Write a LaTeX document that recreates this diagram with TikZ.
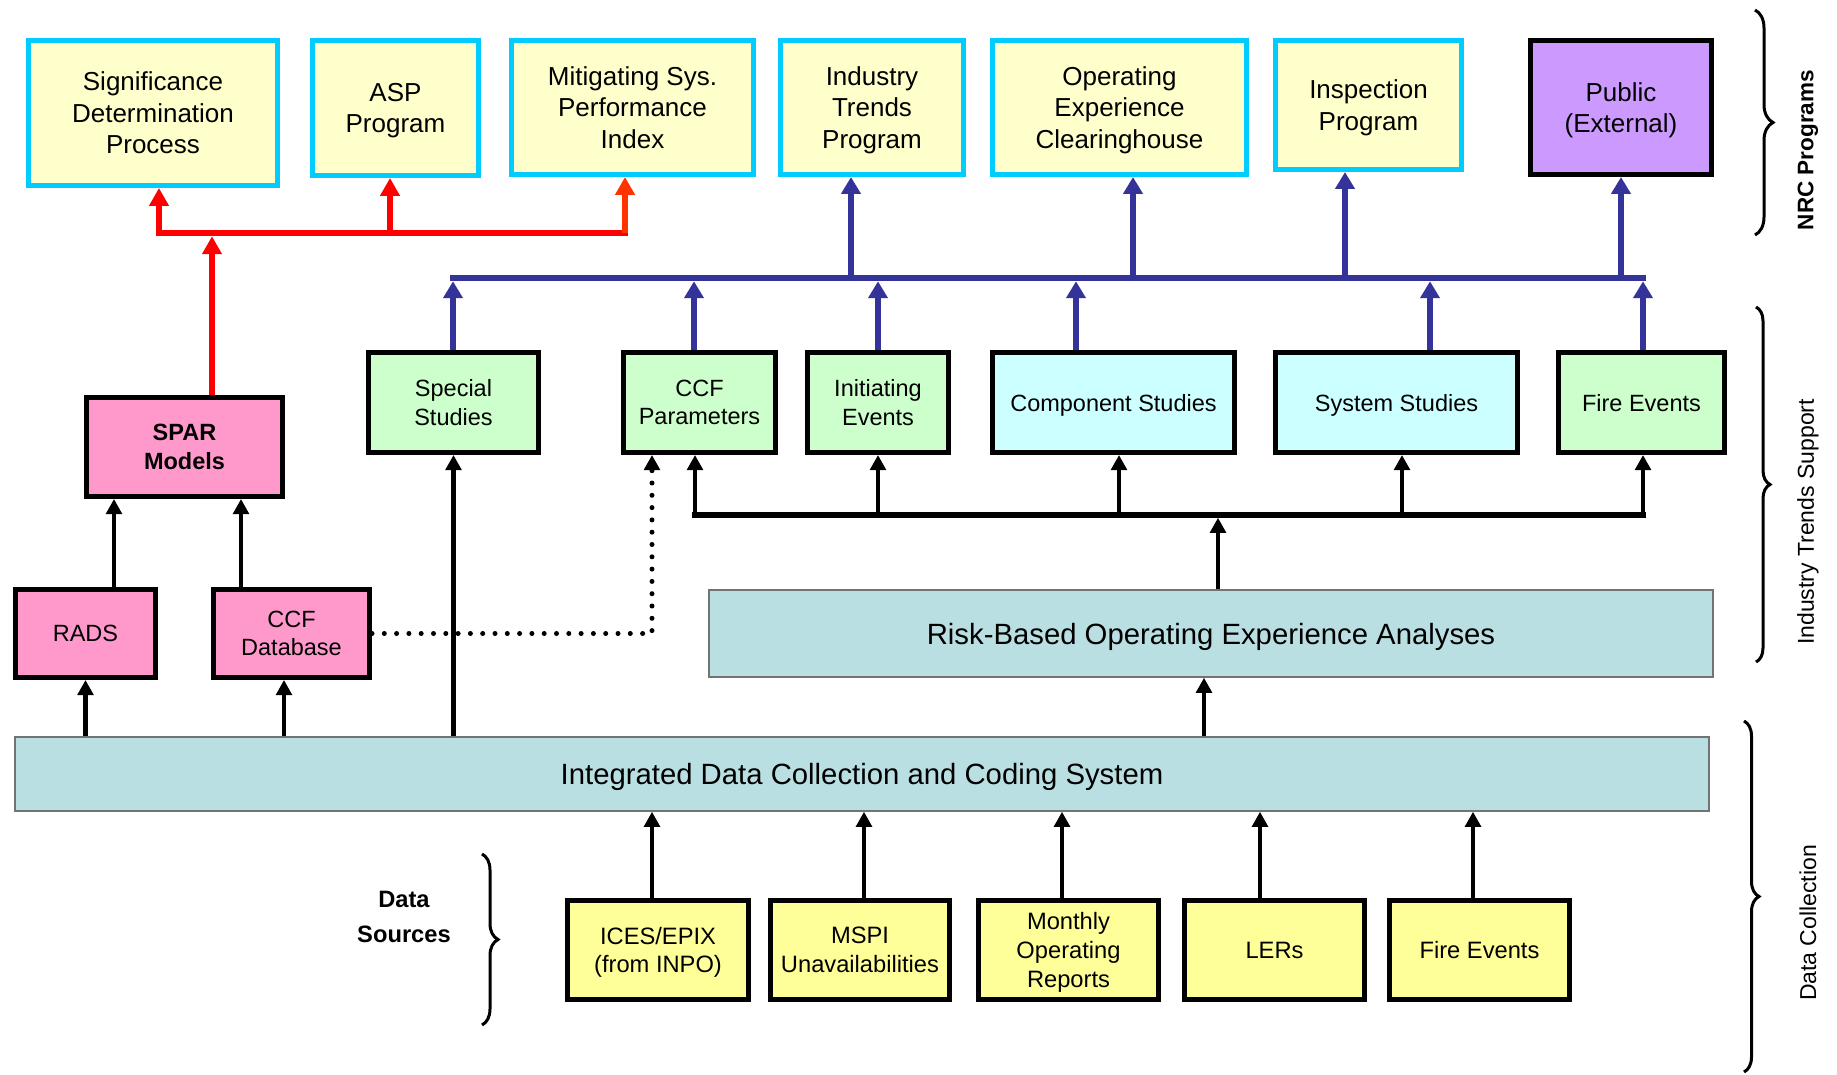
\documentclass[tikz,border=0pt]{standalone}
\usepackage{fontspec}
\setmainfont{Liberation Sans}
\usetikzlibrary{arrows.meta,decorations.pathreplacing}

\definecolor{progyellow}{HTML}{FFFFCC}
\definecolor{progcyan}{HTML}{00CCFF}
\definecolor{publicviolet}{HTML}{CC99FF}
\definecolor{studygreen}{HTML}{CCFFCC}
\definecolor{studycyan}{HTML}{CCFFFF}
\definecolor{sparpink}{HTML}{FF99CC}
\definecolor{sourceyellow}{HTML}{FFFF99}
\definecolor{barblue}{HTML}{B9DFE2}
\definecolor{busblue}{HTML}{333399}
\definecolor{busred}{HTML}{FF0000}
\definecolor{busorange}{HTML}{FF3300}

\begin{document}
\begin{tikzpicture}[
    x=1pt,y=-1pt,
    boxsize/.style 2 args={
      minimum width=#1pt,minimum height=#2pt
    },
    progbox/.style={
      draw=progcyan,fill=progyellow,line width=5pt,text depth=0pt,
      align=center,font=\fontsize{26}{31.5}\selectfont
    },
    publicbox/.style={
      progbox,draw=black,fill=publicviolet
    },
    studybox/.style={
      draw=black,fill=studygreen,line width=5pt,text depth=0pt,
      align=center,font=\fontsize{23.5}{28.5}\selectfont
    },
    trendbox/.style={
      studybox,fill=studycyan
    },
    sparbox/.style={
      studybox,fill=sparpink
    },
    sourcebox/.style={
      studybox,fill=sourceyellow,font=\fontsize{23.7}{28.8}\selectfont
    },
    barbox/.style={
      draw=black!55,fill=barblue,line width=1.5pt,text depth=0pt,
      font=\fontsize{29.3}{34}\selectfont
    },
    redarrow/.style={
      draw=busred,line width=6pt,-{Triangle[width=19pt,length=18pt]}
    },
    redline/.style={
      draw=busred,line width=6.5pt,line cap=rect
    },
    bluearrow/.style={
      draw=busblue,line width=6pt,-{Triangle[width=19pt,length=17pt]}
    },
    blueline/.style={
      draw=busblue,line width=6.5pt,line cap=rect
    },
    blackarrow/.style={
      draw=black,line width=4.6pt,-{Triangle[width=15.5pt,length=15pt]}
    },
    blackline/.style={
      draw=black,line width=5.5pt,line cap=rect
    },
    dotarrow/.style={
      blackarrow,line width=5pt,line cap=round,dash pattern=on 0pt off 12.3pt
    },
    sidebrace/.style={
      decorate,draw=black,line width=3pt
    },
    sidelabel/.style={
      rotate=90,font=\fontsize{23}{27}\selectfont
    }]

      \useasboundingbox (0,0) rectangle (1837,1075);

      \node[progbox,boxsize={249}{145}] (sdp) at (153,113) {Significance\\Determination\\Process};
      \node[progbox,boxsize={166}{135}] (asp) at (395.5,108) {ASP\\Program};
      \node[progbox,boxsize={242}{134}] (mspi) at (632.5,107.5) {Mitigating Sys.\\Performance\\Index};
      \node[progbox,boxsize={183}{134}] (itp) at (872,107.5) {Industry\\Trends\\Program};
      \node[progbox,boxsize={254}{134}] (oec) at (1119.5,107.5) {Operating\\Experience\\Clearinghouse};
      \node[progbox,boxsize={186}{129}] (insp) at (1368.5,105) {Inspection\\Program};
      \node[publicbox,boxsize={181}{134}] (public) at (1621,107.5) {Public\\(External)};

      \node[studybox,boxsize={170}{100}] (spec) at (453.5,402.5) {Special\\Studies};
      \node[studybox,boxsize={152}{100}] (ccfp) at (699.5,402.5) {CCF\\Parameters};
      \node[studybox,boxsize={141}{100}] (init) at (878,402.5) {Initiating\\Events};
      \node[trendbox,boxsize={242}{100}] (comp) at (1113.5,402.5) {Component Studies};
      \node[trendbox,boxsize={242}{100}] (sys) at (1396.5,402.5) {System Studies};
      \node[studybox,boxsize={166}{100}] (fire) at (1641.5,402.5) {Fire Events};

      \node[sparbox,boxsize={196}{99},font=\bfseries\fontsize{23.5}{28.5}\selectfont] (spar) at (184.5,447) {SPAR\\Models};
      \node[sparbox,boxsize={140}{88}] (rads) at (85.5,633.5) {RADS};
      \node[sparbox,boxsize={156}{88}] (ccfdb) at (291.5,633.5) {CCF\\Database};

      \node[barbox,boxsize={1004}{87}] (rbo) at (1211,633.5) {Risk-Based Operating Experience Analyses};
      \node[barbox,boxsize={1694}{74}] (idccs) at (862,774) {Integrated Data Collection and Coding System};

      \node[sourcebox,boxsize={181}{99}] (ices) at (658,950) {ICES/EPIX\\(from INPO)};
      \node[sourcebox,boxsize={179}{99}] (mspiu) at (860,950) {MSPI\\Unavailabilities};
      \node[sourcebox,boxsize={180}{99}] (mor) at (1068.5,950) {Monthly\\Operating\\Reports};
      \node[sourcebox,boxsize={180}{99}] (lers) at (1274.5,950) {LERs};
      \node[sourcebox,boxsize={180}{99}] (fireds) at (1479.5,950) {Fire Events};
      \node[font=\bfseries\fontsize{23.7}{35}\selectfont,align=center] (datasrc) at (404,916.5) {Data\\Sources};

      \node[sidelabel,font=\bfseries\fontsize{22.5}{27}\selectfont] (nrclabel) at (1808,150) {NRC Programs};
      \node[sidelabel] (itslabel) at (1808,522) {Industry Trends Support};
      \node[sidelabel] (dclabel) at (1808,923) {Data Collection};

      \draw[sidebrace,decoration={brace,amplitude=18pt}] (1755,10) -- (1755,235);
      \draw[sidebrace,decoration={brace,amplitude=14pt}] (1756,307) -- (1756,662);
      \draw[sidebrace,decoration={brace,amplitude=15pt}] (1744,721) -- (1744,1072);
      \draw[sidebrace,decoration={brace,amplitude=16pt}] (482,854) -- (482,1025);

      \coordinate (rsdp) at (159,233);
      \coordinate (rasp) at (390,233);
      \coordinate (rmspi) at (625,233);
      \coordinate (rspar) at (212,233);
      \draw[redline] (rsdp) -- (rmspi);
      \draw[redarrow] (rsdp) -- (rsdp |- sdp.south);
      \draw[redarrow] (rasp) -- (rasp |- asp.south);
      \draw[redarrow,draw=busorange] (rmspi) -- (rmspi |- mspi.south);
      \draw[redarrow,shorten >=3.25pt] (rspar |- spar.north) -- (rspar);

      \coordinate (bspec) at (453,278);
      \coordinate (bccfp) at (694,278);
      \coordinate (binit) at (878,278);
      \coordinate (bcomp) at (1076,278);
      \coordinate (bsys) at (1430,278);
      \coordinate (bfire) at (1643,278);
      \coordinate (bitp) at (851,278);
      \coordinate (boec) at (1133,278);
      \coordinate (binsp) at (1345,278);
      \coordinate (bpublic) at (1621,278);
      \draw[blueline] (bspec) -- (bfire);
      \draw[bluearrow] (bitp) -- (bitp |- itp.south);
      \draw[bluearrow] (boec) -- (boec |- oec.south);
      \draw[bluearrow] (binsp) -- (binsp |- insp.south);
      \draw[bluearrow] (bpublic) -- (bpublic |- public.south);
      \draw[bluearrow,shorten >=3.25pt] (bspec |- spec.north) -- (bspec);
      \draw[bluearrow,shorten >=3.25pt] (bccfp |- ccfp.north) -- (bccfp);
      \draw[bluearrow,shorten >=3.25pt] (binit |- init.north) -- (binit);
      \draw[bluearrow,shorten >=3.25pt] (bcomp |- comp.north) -- (bcomp);
      \draw[bluearrow,shorten >=3.25pt] (bsys |- sys.north) -- (bsys);
      \draw[bluearrow,shorten >=3.25pt] (bfire |- fire.north) -- (bfire);

      \coordinate (kccfp) at (695,515);
      \coordinate (kinit) at (878,515);
      \coordinate (kcomp) at (1119,515);
      \coordinate (ksys) at (1402,515);
      \coordinate (kfire) at (1643,515);
      \coordinate (krbo) at (1218,515);
      \draw[blackline] (kccfp) -- (kfire);
      \draw[blackarrow] (kccfp) -- (kccfp |- ccfp.south);
      \draw[blackarrow] (kinit) -- (kinit |- init.south);
      \draw[blackarrow] (kcomp) -- (kcomp |- comp.south);
      \draw[blackarrow] (ksys) -- (ksys |- sys.south);
      \draw[blackarrow] (kfire) -- (kfire |- fire.south);
      \draw[blackarrow,shorten >=2.75pt] (krbo |- rbo.north) -- (krbo);

      \draw[blackarrow] ([xshift=28.5pt]rads.north) -- ([xshift=28.5pt]rads.north |- spar.south);
      \draw[blackarrow] ([xshift=-50.5pt]ccfdb.north) -- ([xshift=-50.5pt]ccfdb.north |- spar.south);
      \draw[dotarrow] (ccfdb.east) -| ([xshift=-47.5pt]ccfp.south);

      \draw[blackarrow] (rads.south |- idccs.north) -- (rads.south);
      \draw[blackarrow] ([xshift=-7.5pt]ccfdb.south |- idccs.north) -- ([xshift=-7.5pt]ccfdb.south);
      \draw[blackarrow] (spec.south |- idccs.north) -- (spec.south);
      \draw[blackarrow] ([xshift=-7pt]rbo.south |- idccs.north) -- ([xshift=-7pt]rbo.south);

      \draw[blackarrow] ([xshift=-6pt]ices.north) -- ([xshift=-6pt]ices.north |- idccs.south);
      \draw[blackarrow] ([xshift=4pt]mspiu.north) -- ([xshift=4pt]mspiu.north |- idccs.south);
      \draw[blackarrow] ([xshift=-6.5pt]mor.north) -- ([xshift=-6.5pt]mor.north |- idccs.south);
      \draw[blackarrow] ([xshift=-14.5pt]lers.north) -- ([xshift=-14.5pt]lers.north |- idccs.south);
      \draw[blackarrow] ([xshift=-6.5pt]fireds.north) -- ([xshift=-6.5pt]fireds.north |- idccs.south);
\end{tikzpicture}
\end{document}
